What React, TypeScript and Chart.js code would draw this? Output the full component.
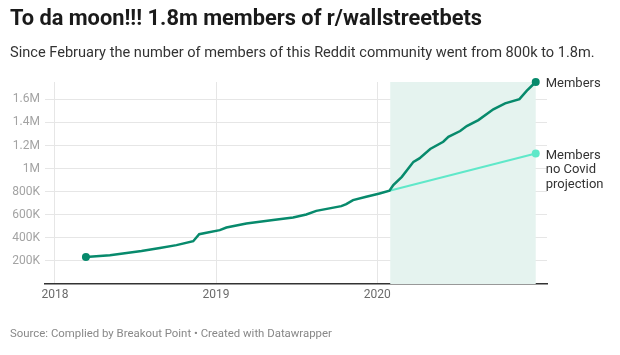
import React, { useEffect, useRef } from "react";
import { Chart, registerables } from "chart.js";

Chart.register(...registerables);

// Members over time (decimal year, members)
const memberDates = [
  2018.192, 2018.341, 2018.537, 2018.651, 2018.754, 2018.858, 2018.895, 2018.94,
  2019.023, 2019.064, 2019.188, 2019.354, 2019.478, 2019.56, 2019.622, 2019.777,
  2019.808, 2019.85, 2019.932, 2020.015, 2020.076, 2020.1, 2020.153, 2020.205,
  2020.225, 2020.262, 2020.329, 2020.41, 2020.442, 2020.515, 2020.556, 2020.628,
  2020.721, 2020.794, 2020.883, 2020.929, 2020.984,
];
const memberValues = [
  235000, 250000, 287000, 313000, 337000, 371000, 432000, 444000,
  467000, 490000, 525000, 554000, 577000, 603000, 634000, 675000,
  692000, 727000, 756000, 785000, 808000, 857000, 929000, 1022000,
  1059000, 1089000, 1170000, 1233000, 1276000, 1326000, 1369000, 1421000,
  1514000, 1566000, 1603000, 1676000, 1751000,
];
const projectionDates = [2020.076, 2020.984];
const projectionValues = [808000, 1132000];

const yTicks = [200000, 400000, 600000, 800000, 1000000, 1200000, 1400000, 1600000];
const xTicks = [2018, 2019, 2020];
const shadeRange = [2020.081, 2020.984];

const seriesLabels = ["Members", ["Members", "no Covid", "projection"]];

const MEMBER_COLOR = "#078a6c";
const PROJ_COLOR = "#5fe8c9";
const FONT = "Roboto, 'Noto Sans', sans-serif";

function fmt(v: number): string {
  if (v >= 1000000) return `${+(v / 1000000).toFixed(1)}M`;
  return `${Math.round(v / 1000)}K`;
}

export default function App() {
  const ref = useRef<HTMLCanvasElement | null>(null);

  useEffect(() => {
    document.body.style.margin = "0";
    const canvas = ref.current;
    if (!canvas) return;

    const shadePlugin = {
      id: "shade",
      beforeDatasetsDraw(chart: any) {
        const { ctx, chartArea, scales } = chart;
        const x0 = scales.x.getPixelForValue(shadeRange[0]);
        const x1 = scales.x.getPixelForValue(shadeRange[1]);
        ctx.save();
        ctx.fillStyle = "#e5f3ef";
        ctx.fillRect(x0, chartArea.top, x1 - x0, chartArea.bottom - chartArea.top);
        ctx.restore();
      },
    };

    const labelPlugin = {
      id: "endLabels",
      afterDatasetsDraw(chart: any) {
        const { ctx } = chart;
        ctx.save();
        ctx.font = `13px ${FONT}`;
        ctx.fillStyle = "#333";
        ctx.textBaseline = "middle";
        ctx.textAlign = "left";
        chart.data.datasets.forEach((ds: any, i: number) => {
          const meta = chart.getDatasetMeta(i);
          const last = meta.data[meta.data.length - 1];
          const lab = seriesLabels[i];
          const lines = Array.isArray(lab) ? lab : [lab];
          lines.forEach((t: string, j: number) => {
            ctx.fillText(t, last.x + 10, last.y + 2 + j * 14.5);
          });
        });
        ctx.restore();
      },
    };

    const endRadius = (n: number, first: boolean) => (c: any) =>
      c.dataIndex === n - 1 || (first && c.dataIndex === 0) ? 4 : 0;

    const chart = new Chart(canvas, {
      type: "line",
      data: {
        datasets: [
          {
            label: "Members",
            data: memberDates.map((d, i) => ({ x: d, y: memberValues[i] })),
            borderColor: MEMBER_COLOR,
            backgroundColor: MEMBER_COLOR,
            borderWidth: 2.5,
            pointRadius: endRadius(memberDates.length, true),
            pointBorderWidth: 0,
            tension: 0,
            clip: false,
          },
          {
            label: "Members no Covid projection",
            data: projectionDates.map((d, i) => ({ x: d, y: projectionValues[i] })),
            borderColor: PROJ_COLOR,
            backgroundColor: PROJ_COLOR,
            borderWidth: 2,
            pointRadius: endRadius(projectionDates.length, false),
            pointBorderWidth: 0,
            tension: 0,
            clip: false,
          },
        ],
      },
      options: {
        responsive: false,
        animation: false,
        devicePixelRatio: 1,
        layout: { padding: { left: 0, top: 82, right: 73, bottom: 0 } },
        plugins: {
          legend: { display: false },
          tooltip: { enabled: false },
          title: { display: false },
        },
        scales: {
          x: {
            type: "linear",
            min: 2017.938,
            max: 2021.054,
            afterBuildTicks: (s: any) => {
              s.ticks = xTicks.map((v) => ({ value: v }));
            },
            afterFit: (s: any) => {
              s.height = 71;
            },
            ticks: {
              color: "#6b6b6b",
              font: { family: FONT, size: 12 },
              padding: 4,
              callback: (v: any) => String(v),
              maxRotation: 0,
            },
            grid: {
              color: "#e6e6e6",
              lineWidth: 1,
              drawTicks: false,
            },
            border: { display: true, color: "#333", width: 1.5 },
          },
          y: {
            type: "linear",
            min: 0,
            max: 1751000,
            afterBuildTicks: (s: any) => {
              s.ticks = yTicks.map((v) => ({ value: v }));
            },
            afterFit: (s: any) => {
              s.width = 45;
            },
            ticks: {
              color: "#a3a3a3",
              font: { family: FONT, size: 12 },
              padding: 5,
              callback: (v: any) => fmt(Number(v)),
            },
            grid: {
              color: "#e6e6e6",
              lineWidth: 1,
              drawTicks: false,
            },
            border: { display: false },
          },
        },
      },
      plugins: [shadePlugin, labelPlugin],
    } as any);

    return () => chart.destroy();
  }, []);

  return (
    <div style={{ position: "relative", width: 620, height: 355, fontFamily: FONT, background: "#fff" }}>
      <canvas ref={ref} width={620} height={355} style={{ position: "absolute", left: 0, top: 0, display: "block" }} />
      <div style={{ position: "absolute", left: 10, top: 5, fontSize: 21.8, lineHeight: "26px", fontWeight: 700, color: "#1a1a1a", whiteSpace: "nowrap" }}>
        To da moon!!! 1.8m members of r/wallstreetbets
      </div>
      <div style={{ position: "absolute", left: 10, top: 43, fontSize: 14.6, lineHeight: "18px", color: "#333", whiteSpace: "nowrap" }}>
        Since February the number of members of this Reddit community went from 800k to 1.8m.
      </div>
      <div style={{ position: "absolute", left: 10, top: 326, fontSize: 11.4, lineHeight: "14px", color: "#888", whiteSpace: "nowrap" }}>
        Source: Complied by Breakout Point • Created with Datawrapper
      </div>
    </div>
  );
}
